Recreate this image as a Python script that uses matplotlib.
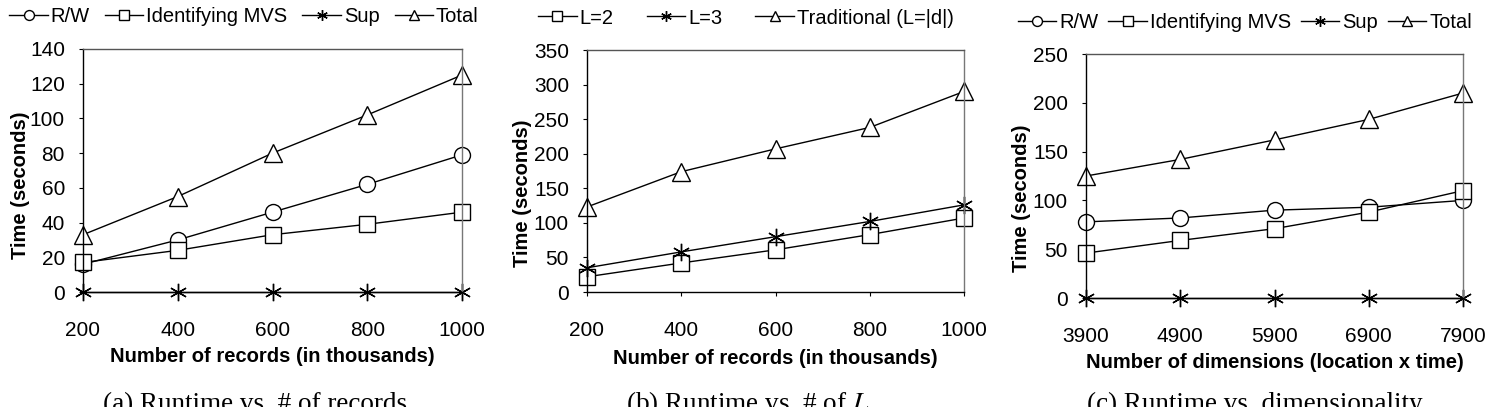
import matplotlib
matplotlib.use("Agg")
import matplotlib.pyplot as plt

plt.rcParams['font.family'] = ['Liberation Sans', 'DejaVu Sans']
plt.rcParams['mathtext.fontset'] = 'stix'

# ---- data ----
records = [200, 400, 600, 800, 1000]
a_rw = [16, 30, 46, 62, 79]
a_mvs = [17, 24, 33, 39, 46]
a_sup = [0, 0, 0, 0, 0]
a_total = [33, 55, 80, 102, 125]

b_l2 = [22, 42, 61, 83, 107]
b_l3 = [35, 58, 80, 102, 126]
b_trad = [123, 174, 207, 238, 290]

dims = [3900, 4900, 5900, 6900, 7900]
c_rw = [78, 82, 90, 93, 100]
c_mvs = [46, 59, 71, 88, 110]
c_sup = [0, 0, 0, 0, 0]
c_total = [125, 142, 162, 183, 210]

a_yticks = [0, 20, 40, 60, 80, 100, 120, 140]
b_yticks = [0, 50, 100, 150, 200, 250, 300, 350]
c_yticks = [0, 50, 100, 150, 200, 250]

W, H = 1492, 407
fig = plt.figure(figsize=(W / 100, H / 100), dpi=100)

def px_axes(l, r, t, b):
    return fig.add_axes([l / W, (H - b) / H, (r - l) / W, (b - t) / H])

style = dict(color='black', lw=1.0, mfc='white', mec='black', mew=1.0, clip_on=False)

def series(ax, x, y, kind, label):
    if kind == 'o':
        return ax.plot(x, y, marker='o', ms=11.5, label=label, **style)[0]
    if kind == 's':
        return ax.plot(x, y, marker='s', ms=11, label=label, **style)[0]
    if kind == '*':
        return ax.plot(x, y, marker=(6, 2, 0), ms=12.5, label=label, **style)[0]
    if kind == '^':
        return ax.plot(x, y, marker='^', ms=12.5, label=label, **style)[0]

def fmt(ax, xt, yt, xlabel, ylab_xy, xlab_y):
    ax.set_xlim(xt[0], xt[-1])
    ax.set_ylim(yt[0], yt[-1])
    ax.set_xticks(xt)
    ax.set_yticks(yt)
    ax.tick_params(axis='both', labelsize=15, length=3, width=0.8, direction='out')
    ax.tick_params(axis='y', pad=10)
    ax.tick_params(axis='x', pad=18)
    ax.set_xlabel(xlabel, fontsize=14.5, fontweight='bold')
    ax.xaxis.label.set_va('center')
    ax.xaxis.set_label_coords(0.5, xlab_y)
    ax.set_ylabel('Time (seconds)', fontsize=14.5, fontweight='bold')
    ax.yaxis.label.set_va('center')
    ax.yaxis.set_label_coords(*ylab_xy)
    for s in ax.spines.values():
        s.set_linewidth(1.0)
    ax.spines['right'].set_color('#777777')
    ax.spines['top'].set_color('#555555')

# panel a
axa = px_axes(83, 462, 49, 292)
series(axa, records, a_rw, 'o', 'R/W')
series(axa, records, a_mvs, 's', 'Identifying MVS')
series(axa, records, a_sup, '*', 'Sup')
series(axa, records, a_total, '^', 'Total')
fmt(axa, records, a_yticks, 'Number of records (in thousands)', (-0.166, 0.44), -0.267)

# panel b
axb = px_axes(587, 964, 50, 292)
series(axb, records, b_l2, 's', 'L=2')
series(axb, records, b_l3, '*', 'L=3')
series(axb, records, b_trad, '^', 'Traditional (L=|d|)')
fmt(axb, records, b_yticks, 'Number of records (in thousands)', (-0.172, 0.41), -0.273)

# panel c
axc = px_axes(1086, 1463, 54, 298)
series(axc, dims, c_rw, 'o', 'R/W')
series(axc, dims, c_mvs, 's', 'Identifying MVS')
series(axc, dims, c_sup, '*', 'Sup')
series(axc, dims, c_total, '^', 'Total')
fmt(axc, dims, c_yticks, 'Number of dimensions (location x time)', (-0.17, 0.41), -0.266)

legkw = dict(frameon=False, fontsize=14.5, handlelength=1.9, handletextpad=0.15,
             borderaxespad=0, borderpad=0, loc='center', markerscale=0.62)
axa.legend(ncol=4, columnspacing=0.75, bbox_to_anchor=(244 / W, (H - 17) / H),
           bbox_transform=fig.transFigure, **legkw)
axb.legend(ncol=3, columnspacing=1.65, bbox_to_anchor=(746 / W, (H - 18) / H),
           bbox_transform=fig.transFigure, **legkw)
axc.legend(ncol=4, columnspacing=0.5, bbox_to_anchor=(1245 / W, (H - 23) / H),
           bbox_transform=fig.transFigure, **legkw)

cap_y = (H - 411) / H
capkw = dict(family='Liberation Serif', fontsize=19.5, ha='center', va='baseline')
fig.text(255 / W, cap_y, '(a) Runtime vs. # of records', **capkw)
fig.text(748 / W, cap_y, '(b) Runtime vs. # of $L$', **capkw)
fig.text(1255 / W, cap_y, '(c) Runtime vs. dimensionality', **capkw)

fig.savefig('out.png', dpi=100)
